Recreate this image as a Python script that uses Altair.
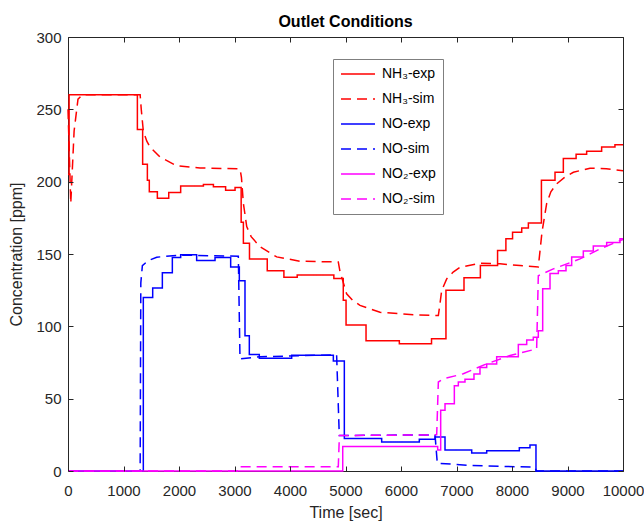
import altair as alt
import pandas as pd

# ---------------- data ----------------
nh3_exp_time = [0, 20, 1250, 1345, 1430, 1465, 1610, 1815, 2030, 2440, 2620, 2840, 3010, 3120, 3160,
                3270, 3590, 3890, 4130, 4790, 4960, 5010, 5370, 5970, 6550, 6810, 7135, 7430, 7740,
                7890, 8010, 8175, 8295, 8530, 8775, 8925, 9155, 9345, 9615, 9855, 10000]
nh3_exp_conc = [205, 260, 236, 212, 201, 193, 188.5, 192.5, 197, 198, 196.5, 194, 196, 172, 157.5,
                146.5, 138.5, 134, 135.5, 133, 118, 101, 90, 88, 91.5, 125, 133.5, 142, 152.5,
                160.5, 165, 168, 171.5, 201, 206.5, 216, 219, 221, 224, 225.5, 225.5]

nh3_sim_time = [0, 50, 110, 180, 260, 1300, 1320, 1357, 1420, 1477, 1658, 1958, 2378, 3100, 3125,
                3160, 3220, 3300, 3459, 3760, 4180, 4870, 4900, 5020, 5130, 5261, 5622, 6222, 6673,
                6700, 6733, 6823, 6940, 7063, 7423, 7784, 8144, 8474, 8540, 8625, 8700, 8805, 8950,
                9105, 9405, 9700, 10000]
nh3_sim_conc = [250, 185, 235, 257, 260, 260, 250, 235, 228, 224, 217, 211, 209.5, 208.8, 203,
                185, 169, 162, 155, 148, 145, 144.5, 138, 122.5, 118, 114.5, 109.7, 108, 107.5,
                115, 124.7, 132.8, 137.5, 140.8, 143.6, 143.2, 142, 141, 165, 185, 193, 198.5, 203,
                206.5, 209.3, 209, 207.5]

no_exp_time = [0, 1357, 1526, 1700, 1880, 2030, 2318, 2649, 2931, 3087, 3189, 3267, 3447, 4030,
               4781, 4979, 5652, 6330, 6613, 6793, 7274, 7544, 8132, 8324, 8432, 10000]
no_exp_conc = [0, 120, 126.5, 137, 147.5, 149.5, 145.5, 147.5, 141, 131.5, 93.5, 80.5, 78, 80,
               76, 22.5, 20, 22, 23.5, 14.5, 12.5, 14, 16, 18, 0, 0]

no_sim_time = [0, 1300, 1312, 1340, 1450, 1598, 2018, 3069, 3099, 3459, 4840, 4888, 6613, 6654,
               7274, 8414, 8440, 10000]
no_sim_conc = [0, 0, 130, 142, 145.5, 147.8, 149.2, 148.5, 77.5, 79, 80.3, 24.5, 25, 5.4,
               3.8, 2.6, 0, 0]

no2_exp_time = [0, 4950, 6661, 6715, 6793, 6961, 7033, 7153, 7315, 7423, 7544, 7724, 8114, 8265,
                8384, 8474, 8553, 8685, 8835, 8973, 9075, 9285, 9465, 9706, 9946, 10000]
no2_exp_conc = [0, 17, 14.5, 42, 46.5, 59, 61.5, 63.5, 67, 71.5, 74, 79, 87.5, 90.5,
                92.5, 97, 126, 136.5, 138.5, 142, 148, 152, 155.5, 158, 160.5, 160.5]

no2_sim_time = [0, 3080, 3100, 4870, 4890, 6643, 6673, 6763, 7123, 7544, 7964, 8444, 8474, 8745,
                9225, 9586, 9946, 10000]
no2_sim_conc = [0, 0, 3, 3, 24.5, 25, 61.5, 63.7, 67.2, 74.1, 79.8, 84.4, 135, 139.7,
                146.6, 153.5, 159.3, 160]

series_names = ["NH₃-exp", "NH₃-sim", "NO-exp", "NO-sim", "NO₂-exp", "NO₂-sim"]
x_tick_values = [0, 1000, 2000, 3000, 4000, 5000, 6000, 7000, 8000, 9000, 10000]
y_tick_values = [0, 50, 100, 150, 200, 250, 300]

# ---------------- styles ----------------
series_colors = ["#ff0000", "#ff0000", "#0000ff", "#0000ff", "#ff00ff", "#ff00ff"]
series_dashes = [[1, 0], [10, 6], [1, 0], [10, 6], [1, 0], [10, 6]]
series_widths = [1.5, 1.5, 1.5, 1.5, 2.5, 2.5]
series_interp = ["step-after", "linear", "step-after", "linear", "step-after", "linear"]

series_data = [
    (nh3_exp_time, nh3_exp_conc), (nh3_sim_time, nh3_sim_conc),
    (no_exp_time, no_exp_conc), (no_sim_time, no_sim_conc),
    (no2_exp_time, no2_exp_conc), (no2_sim_time, no2_sim_conc),
]

frames = []
for name, (tt, cc) in zip(series_names, series_data):
    frames.append(pd.DataFrame({"time": tt, "conc": cc, "series": name}))
df = pd.concat(frames, ignore_index=True)

W, H = 555, 434
FONT = "Liberation Sans"
TICK = "#262626"

leg = alt.Legend(
    title=None, orient="none", legendX=265, legendY=22,
    symbolType="stroke", symbolSize=1156, clipHeight=16, rowPadding=9,
    padding=7, labelOffset=6, labelFont=FONT, labelFontSize=14,
    labelColor="#000000", strokeColor="#7f7f7f", fillColor="#ffffff",
)

x_scale = alt.Scale(domain=[0, 10000], nice=False)
y_scale = alt.Scale(domain=[0, 300], nice=False)

# bottom / left axes: pulled 5 px inside the frame so their ticks point inwards
x_axis_main = alt.Axis(orient="bottom", values=x_tick_values, format="d", offset=-5,
                       ticks=True, tickSize=5, tickWidth=1, tickColor=TICK, tickOpacity=1,
                       labelPadding=12, titlePadding=6, labelOverlap=False, labelFlush=False,
                       zindex=2)
y_axis_main = alt.Axis(orient="left", values=y_tick_values, format="d", offset=-5,
                       ticks=True, tickSize=5, tickWidth=1, tickColor=TICK, tickOpacity=1,
                       labelPadding=7, titlePadding=11, labelOverlap=False, labelFlush=False,
                       zindex=2)
# top / right axes: ticks only
x_axis_top = alt.Axis(orient="top", values=x_tick_values, offset=-5, ticks=True, tickSize=5,
                      tickWidth=1, tickColor=TICK, tickOpacity=1, labels=False, title=None, zindex=2)
y_axis_right = alt.Axis(orient="right", values=y_tick_values, offset=-5, ticks=True, tickSize=5,
                        tickWidth=1, tickColor=TICK, tickOpacity=1, labels=False, title=None, zindex=2)

color_enc = alt.Color("series:N", scale=alt.Scale(domain=series_names, range=series_colors), legend=leg)
dash_enc = alt.StrokeDash("series:N", scale=alt.Scale(domain=series_names, range=series_dashes), legend=leg)
width_enc = alt.StrokeWidth("series:N", scale=alt.Scale(domain=series_names, range=series_widths), legend=leg)

layers = []
# invisible layer that carries the top and right tick axes
layers.append(
    alt.Chart(df).mark_line(opacity=0).encode(
        x=alt.X("time:Q", scale=x_scale, axis=x_axis_top),
        y=alt.Y("conc:Q", scale=y_scale, axis=y_axis_right),
        detail="series:N",
    )
)
for i, (name, interp) in enumerate(zip(series_names, series_interp)):
    if i == 0:
        xe = alt.X("time:Q", title="Time [sec]", scale=x_scale, axis=x_axis_main)
        ye = alt.Y("conc:Q", title="Concentration [ppm]", scale=y_scale, axis=y_axis_main)
    else:
        xe = alt.X("time:Q", scale=x_scale, axis=None)
        ye = alt.Y("conc:Q", scale=y_scale, axis=None)
    layers.append(
        alt.Chart(df).transform_filter(alt.datum.series == name)
        .mark_line(interpolate=interp)
        .encode(x=xe, y=ye, color=color_enc, strokeDash=dash_enc, strokeWidth=width_enc)
    )

chart = alt.layer(*layers).resolve_axis(
    x="independent", y="independent"
).properties(
    width=W, height=H,
    title=alt.TitleParams("Outlet Conditions", font=FONT, fontSize=16, fontWeight="bold",
                          baseline="alphabetic", offset=10, dy=23, anchor="middle",
                          color="#000000"),
    autosize=alt.AutoSizeParams(type="none"),
    padding={"left": 68, "top": 37, "right": 21, "bottom": 53},
    background="#ffffff",
).configure_view(
    stroke="#262626", strokeWidth=1
).configure_axis(
    domain=False, grid=False,
    labelFont=FONT, labelFontSize=15, labelColor="#262626",
    titleFont=FONT, titleFontSize=16, titleColor="#262626", titleFontWeight="normal",
)

chart.save("out.html", embed_options={"renderer": "svg", "actions": False})
